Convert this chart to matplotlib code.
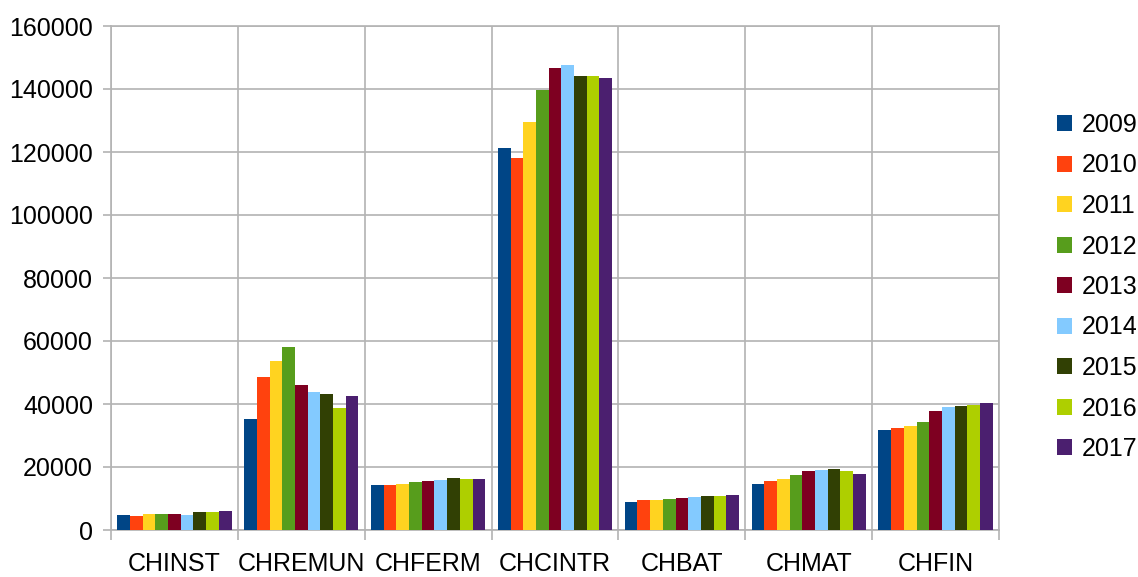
import matplotlib
matplotlib.use("Agg")
import matplotlib.pyplot as plt
import numpy as np

categories = ["CHINST", "CHREMUN", "CHFERM", "CHCINTR", "CHBAT", "CHMAT", "CHFIN"]
years = ["2009", "2010", "2011", "2012", "2013", "2014", "2015", "2016", "2017"]

# values per year, one entry per category (same order as `categories`)
v2009 = [4800, 35200, 14300, 121300, 8900, 14600, 31700]
v2010 = [4400, 48600, 14300, 118100, 9500, 15600, 32400]
v2011 = [5100, 53700, 14600, 129500, 9500, 16200, 33000]
v2012 = [5100, 58100, 15200, 139700, 9800, 17500, 34300]
v2013 = [5100, 46000, 15600, 146700, 10200, 18700, 37800]
v2014 = [4800, 43800, 16000, 147600, 10500, 19000, 39000]
v2015 = [5700, 43200, 16500, 144100, 10800, 19400, 39400]
v2016 = [5700, 38700, 16200, 144100, 10800, 18700, 39700]
v2017 = [6000, 42500, 16200, 143500, 11100, 17800, 40300]
series = [v2009, v2010, v2011, v2012, v2013, v2014, v2015, v2016, v2017]

colors = ["#004586", "#ff420e", "#ffd320", "#579d1c", "#7e0021",
          "#83caff", "#314004", "#aecf00", "#4b1f6f"]

plt.rcParams["font.family"] = ["Liberation Sans", "DejaVu Sans"]
W, H = 1138, 577
fig = plt.figure(figsize=(W / 100, H / 100), dpi=100)
ax = fig.add_axes([111 / W, (H - 530) / H, 888 / W, 504 / H])

grid_c = "#b3b3b3"
x = np.arange(len(categories))
bw = 0.1
for j, (vals, c, yr) in enumerate(zip(series, colors, years)):
    ax.bar(x + (j - 4) * bw, vals, width=bw, color=c, label=yr, zorder=3)

ax.set_xlim(-0.5, len(categories) - 0.5)
ax.set_ylim(0, 160000)
ax.set_yticks(np.arange(0, 160001, 20000))
ax.set_xticks(x)
ax.set_xticklabels(categories)
ax.set_xticks(np.arange(-0.5, len(categories), 1.0), minor=True)

ax.grid(axis="y", which="major", color=grid_c, linewidth=1.2, zorder=0)
ax.grid(axis="x", which="minor", color=grid_c, linewidth=1.2, zorder=0)
for s in ax.spines.values():
    s.set_color(grid_c)
    s.set_linewidth(1.2)

ax.tick_params(axis="y", which="major", length=6, width=1.2, color=grid_c,
               labelsize=18, pad=7, labelcolor="black")
ax.tick_params(axis="x", which="major", length=0, labelsize=18, pad=16,
               labelcolor="black")
ax.tick_params(axis="x", which="minor", length=7, width=1.2, color=grid_c)

leg = fig.legend(loc="center left", bbox_to_anchor=(1057 / W, 1 - 287 / H),
                 frameon=False, fontsize=18, handlelength=0.6,
                 handleheight=0.6, handletextpad=0.4, labelspacing=0.66,
                 borderpad=0, borderaxespad=0)

fig.savefig("out.png", dpi=100, facecolor="white")
